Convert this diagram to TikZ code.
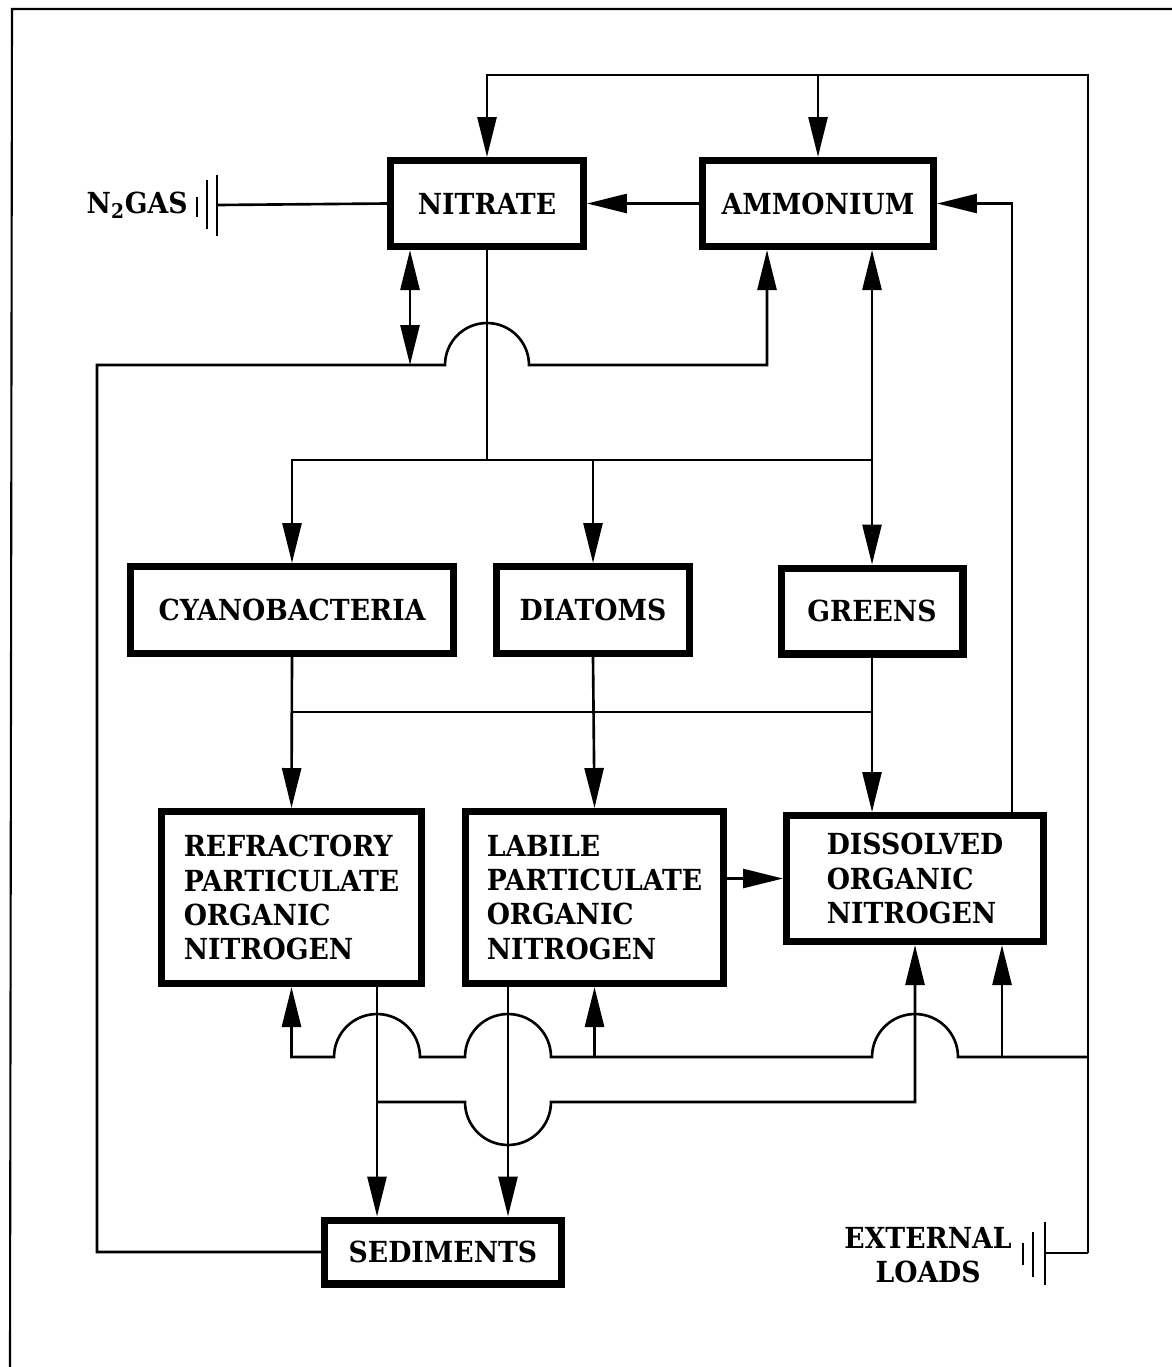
\documentclass[tikz,border=0pt]{standalone}
\usepackage{fontspec}
\setmainfont{DejaVu Serif}[FakeStretch=0.92]
\usepackage{tikz}
\usetikzlibrary{arrows.meta}
\usetikzlibrary{calc}
\tikzset{pool/.style={draw,line width=4pt,inner sep=0pt,align=left,font=\fontsize{16.5}{19.4}\selectfont\bfseries}}
\tikzset{wire/.style={line width=1.5pt}}
\tikzset{flow/.style={wire,-{Triangle[length=0.8cm,width=0.38cm]}}}
\tikzset{both/.style={wire,{Triangle[length=0.8cm,width=0.38cm]}-{Triangle[length=0.8cm,width=0.38cm]}}}
\tikzset{sink label/.style={inner sep=0pt,align=center,font=\fontsize{16.5}{19.4}\selectfont\bfseries}}

\begin{document}
\begin{tikzpicture}[x=0.02cm,y=-0.02cm]

  \def\hopR{0.86cm}

  \useasboundingbox (0,0) rectangle (1172,1367);
  \draw[line width=1.2pt] (10,1367) -- (12,9) -- (1172,9);

  \node[pool, minimum width=3.86cm, minimum height=1.72cm] (nitrate)  at (487,203.5)  {NITRATE};
  \node[pool, minimum width=4.62cm, minimum height=1.72cm] (ammonium) at (818,203.5)  {AMMONIUM};
  \node[pool, minimum width=6.46cm, minimum height=1.74cm] (cyano)    at (292,610)    {CYANOBACTERIA};
  \node[pool, minimum width=3.86cm, minimum height=1.74cm] (diatoms)  at (593,610)    {DIATOMS};
  \node[pool, minimum width=3.64cm, minimum height=1.72cm] (greens)   at (872,611)    {GREENS};
  \node[pool, minimum width=5.2cm,  minimum height=3.44cm] (refr)     at (291.5,897.5) {REFRACTORY\\PARTICULATE\\ORGANIC\\NITROGEN};
  \node[pool, minimum width=5.16cm, minimum height=3.44cm] (labile)   at (594.5,897.5) {LABILE\\PARTICULATE\\ORGANIC\\NITROGEN};
  \node[pool, minimum width=5.14cm, minimum height=2.52cm] (don)      at (915,878.5)  {DISSOLVED\\ORGANIC\\NITROGEN};
  \node[pool, minimum width=4.74cm, minimum height=1.28cm] (sediments) at (443,1252)  {SEDIMENTS};

  \node[sink label, anchor=east] (gas)  at (188,205)  {N\textsubscript{2}GAS};
  \node[sink label, anchor=east] (ext label) at (1012,1255) {EXTERNAL\\LOADS};

  \coordinate (gasbar)  at (217,205);
  \coordinate (extbar)  at (1045,1253);
  \coordinate (ext)     at (1088,1253);
  \coordinate (rtop)    at (1088,75);
  \coordinate (load)    at (1088,1057);
  \coordinate (sedleft) at (97,365);
  \coordinate (nsplit)  at (410,365);
  \coordinate (uptake)  at (872,460);
  \coordinate (mort)    at (872,712);
  \coordinate (dis)     at (377,1102);
  \coordinate (amin)    at ($(ammonium.south)+(-51,0)$);
  \coordinate (donout)  at ($(don.north east)+(-35,0)$);
  \coordinate (donin)   at ($(don.south)+(87,0)$);
  \coordinate (rdown)   at ($(refr.south)+(85.5,0)$);
  \coordinate (ldown)   at ($(labile.south)+(-86.5,0)$);

  \draw[wire] (197,197) -- (197,217);
  \draw[wire] (207,180) -- (207,229);
  \draw[wire] (217,175) -- (217,236);
  \draw[wire] (gasbar) -- (nitrate.west);

  \draw[wire] (1023,1243) -- (1023,1265);
  \draw[wire] (1033,1232) -- (1033,1277);
  \draw[wire] (1045,1222) -- (1045,1285);
  \draw[wire] (extbar) -- (ext);

  \draw[flow] (ext) -- (rtop) -| (nitrate.north);
  \draw[flow] (ammonium.north |- rtop) -- (ammonium.north);
  \draw[flow] (ammonium.west) -- (nitrate.east);
  \draw[flow] (donout) |- (ammonium.east);

  \draw[flow] (sediments.west) -| (sedleft) -- ($(nitrate.south |- sedleft)+(-42,0)$)
    arc[start angle=180, end angle=0, radius=0.84cm] -| (amin);
  \draw[both] (nsplit |- nitrate.south) -- (nsplit);

  \draw[wire] (nitrate.south) -- (nitrate.south |- uptake);
  \draw[both] (greens.north) -- (greens.north |- ammonium.south);
  \draw[flow] (uptake) -| (cyano.north);
  \draw[flow] (diatoms.north |- uptake) -- (diatoms.north);

  \draw[wire] (mort) -| (cyano.south);
  \draw[flow] (cyano.south) -- (refr.north);
  \draw[flow] (diatoms.south) -- (labile.north);
  \draw[flow] (greens.south) -- (greens.south |- don.north);
  \draw[flow] (labile.east |- don.west) -- (don.west);

  \draw[flow] (rdown) -- (rdown |- sediments.north);
  \draw[flow] (ldown) -- (ldown |- sediments.north);

  \draw[flow] (load) -- ($(don.south |- load)+(43,0)$)
    arc[start angle=0, end angle=180, radius=\hopR] -- ($(ldown |- load)+(43,0)$)
    arc[start angle=0, end angle=180, radius=\hopR] -- ($(rdown |- load)+(43,0)$)
    arc[start angle=0, end angle=180, radius=\hopR] -| (refr.south);
  \draw[flow] (donin |- load) -- (donin);
  \draw[flow] (labile.south |- load) -- (labile.south);

  \draw[flow] (dis) -- ($(ldown |- dis)+(-43,0)$)
    arc[start angle=180, end angle=360, radius=\hopR] -| (don.south);

\end{tikzpicture}
\end{document}
